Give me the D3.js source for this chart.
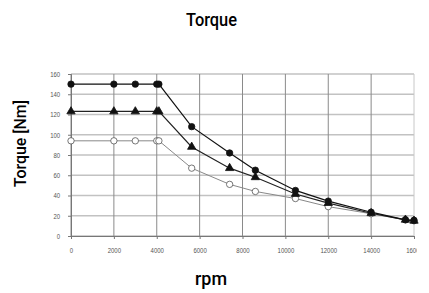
<!DOCTYPE html>
<html>
<head>
<meta charset="utf-8">
<script src="https://cdn.jsdelivr.net/npm/d3@7"></script>
<style>
  body { margin: 0; background: #fff; }
  svg { display: block; }
</style>
</head>
<body>
<div id="chart"></div>
<script>
// data
const rpm = [0, 2000, 3000, 4000, 4100, 5630, 7400, 8600, 10470, 12000, 14000, 15600, 16000];
const torqueHigh = [150, 150, 150, 150, 150, 108, 82, 65, 45, 34.5, 23.5, 16, 15.5];
const torqueMid = [123, 123, 123, 123, 123, 88, 67, 58, 41.5, 32.5, 22.5, 16, 15];
const torqueLow = [94, 94, 94, 94, 94, 67, 51, 44, 37, 29, 22, 16, 15];
const xTicks = [0, 2000, 4000, 6000, 8000, 10000, 12000, 14000, 16000];
const yTicks = [0, 20, 40, 60, 80, 100, 120, 140, 160];

const W = 429, H = 293;
const margin = {top: 74, right: 15, bottom: 57, left: 71};
const width = W - margin.left - margin.right,
    height = H - margin.top - margin.bottom;

const svg = d3.select("#chart")
    .append("svg")
    .attr("width", W)
    .attr("height", H);

// the source picture is cut off just right of the last gridline
svg.append("clipPath").attr("id", "cut")
    .append("rect")
    .attr("x", -margin.left).attr("y", -10)
    .attr("width", 417).attr("height", 40);

const g = svg.append("g")
    .attr("transform", `translate(${margin.left},${margin.top})`);

const x = d3.scaleLinear().domain([0, 16000]).range([0, width]);
const y = d3.scaleLinear().domain([0, 160]).range([height, 0]);

// grid
g.append("g")
    .selectAll("line")
    .data(yTicks)
    .join("line")
    .attr("x1", 0).attr("x2", width)
    .attr("y1", d => y(d)).attr("y2", d => y(d))
    .attr("stroke", "#c2c2c2")
    .attr("stroke-width", 1.3);
g.append("g")
    .selectAll("line")
    .data(xTicks)
    .join("line")
    .attr("x1", d => x(d)).attr("x2", d => x(d))
    .attr("y1", 0).attr("y2", height)
    .attr("stroke", d => d === 16000 ? "#c8c8c8" : "#8a8a8a")
    .attr("stroke-width", 1);

// axes
const xAxis = g.append("g")
    .attr("transform", `translate(0,${height})`)
    .call(d3.axisBottom(x).tickValues(xTicks).tickSize(3).tickFormat(d3.format("d")));
const yAxis = g.append("g")
    .call(d3.axisLeft(y).tickValues(yTicks).tickSize(3).tickPadding(8));
xAxis.attr("clip-path", "url(#cut)");
[xAxis, yAxis].forEach(a => {
    a.select(".domain").attr("stroke", "#777");
    a.selectAll(".tick line").attr("stroke", "#777");
    a.selectAll("text")
        .attr("fill", "#555")
        .style("font-family", "Liberation Sans, Arial, sans-serif")
        .style("font-size", "7.5px");
});
xAxis.selectAll("text").attr("dy", "1.5em")
    .attr("transform", "scale(0.8,1)");
yAxis.selectAll("text")
    .attr("transform", "translate(-2,0) scale(0.8,1)");

// series
const series = [
    {vals: torqueHigh, line: "#111", marker: "circle", fill: "#111", width: 1.2},
    {vals: torqueMid, line: "#222", marker: "triangle", fill: "#111", width: 1.2},
    {vals: torqueLow, line: "#888", marker: "circle", fill: "#fff", width: 1}
];

const line = d3.line().x(d => x(d[0])).y(d => y(d[1]));

series.slice().reverse().forEach(s => {
    const pts = rpm.map((r, i) => [r, s.vals[i]]);
    g.append("path")
        .datum(pts)
        .attr("fill", "none")
        .attr("stroke", s.line)
        .attr("stroke-width", s.width)
        .attr("d", line);
    const sym = d3.symbol()
        .type(s.marker === "triangle" ? d3.symbolTriangle : d3.symbolCircle)
        .size(s.marker === "triangle" ? 30 : 32);
    g.append("g")
        .selectAll("path")
        .data(pts)
        .join("path")
        .attr("transform", d => `translate(${x(d[0])},${y(d[1])})`)
        .attr("d", sym)
        .attr("fill", s.fill)
        .attr("stroke", s.fill === "#fff" ? "#555" : "#111")
        .attr("stroke-width", 0.8);
});

// labels
const labelFont = "Roboto, 'Liberation Sans', sans-serif";
svg.append("text")
    .attr("x", 211.5).attr("y", 26)
    .attr("text-anchor", "middle")
    .attr("textLength", 51)
    .attr("lengthAdjust", "spacingAndGlyphs")
    .style("font-family", labelFont)
    .style("font-weight", 500)
    .style("font-size", "18px")
    .text("Torque");
svg.append("text")
    .attr("transform", "translate(25.5,143.5) rotate(-90)")
    .attr("text-anchor", "middle")
    .attr("textLength", 87)
    .attr("lengthAdjust", "spacingAndGlyphs")
    .style("font-family", labelFont)
    .style("font-weight", 500)
    .style("font-size", "17px")
    .text("Torque [Nm]");
svg.append("text")
    .attr("x", 211).attr("y", 285)
    .attr("text-anchor", "middle")
    .attr("textLength", 32)
    .attr("lengthAdjust", "spacingAndGlyphs")
    .style("font-family", labelFont)
    .style("font-weight", 500)
    .style("font-size", "18px")
    .text("rpm");
</script>
</body>
</html>
